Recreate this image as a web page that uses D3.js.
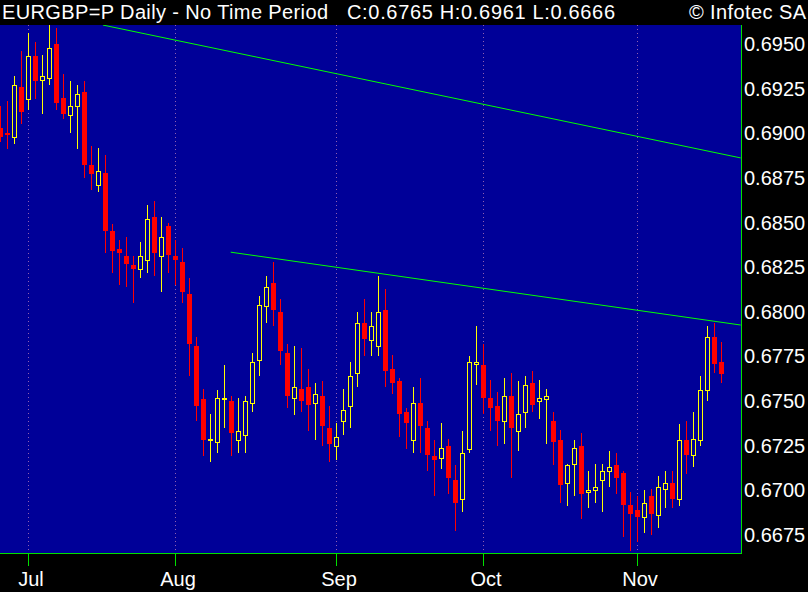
<!DOCTYPE html>
<html><head><meta charset="utf-8">
<script src="https://cdn.jsdelivr.net/npm/d3@7"></script>
<style>html,body{margin:0;padding:0;background:#000;}svg{display:block}</style>
</head><body><svg id="c" width="808" height="592"></svg>
<script>
// ---- data (EUR/GBP daily OHLC) ----
const open  = [0.6903,0.6900,0.6898,0.6926,0.6919,0.6943,0.6930,0.6931,0.6950,0.6920,
               0.6910,0.6915,0.6923,0.6882,0.6871,0.6878,0.6845,0.6835,0.6831,0.6826,
               0.6824,0.6829,0.6853,0.6831,0.6848,0.6831,0.6828,0.6810,0.6781,0.6751,
               0.6728,0.6727,0.6751,0.6750,0.6728,0.6731,0.6749,0.6773,0.6803,0.6816,
               0.6800,0.6777,0.6752,0.6757,0.6758,0.6749,0.6753,0.6735,0.6725,0.6739,
               0.6747,0.6766,0.6794,0.6784,0.6781,0.6801,0.6768,0.6761,0.6744,0.6728,
               0.6749,0.6735,0.6719,0.6718,0.6725,0.6706,0.6695,0.6723,0.6771,0.6770,
               0.6752,0.6747,0.6739,0.6753,0.6733,0.6744,0.6760,0.6750,0.6751,0.6739,
               0.6728,0.6704,0.6715,0.6725,0.6699,0.6700,0.6706,0.6711,0.6714,0.6710,
               0.6692,0.6689,0.6685,0.6697,0.6686,0.6701,0.6704,0.6695,0.6728,0.6720,
               0.6728,0.6756,0.6786,0.6772];
const high  = [0.6915,0.6918,0.6932,0.6946,0.6956,0.6951,0.6944,0.6961,0.6959,0.6933,
               0.6929,0.6927,0.6929,0.6893,0.6892,0.6888,0.6849,0.6840,0.6842,0.6831,
               0.6839,0.6860,0.6862,0.6853,0.6850,0.6840,0.6836,0.6819,0.6786,0.6757,
               0.6743,0.6756,0.6770,0.6753,0.6752,0.6753,0.6777,0.6809,0.6820,0.6828,
               0.6807,0.6782,0.6781,0.6780,0.6768,0.6760,0.6761,0.6747,0.6738,0.6757,
               0.6772,0.6800,0.6807,0.6800,0.6820,0.6813,0.6776,0.6763,0.6746,0.6758,
               0.6763,0.6739,0.6728,0.6738,0.6729,0.6714,0.6733,0.6775,0.6792,0.6782,
               0.6762,0.6755,0.6763,0.6766,0.6761,0.6764,0.6767,0.6762,0.6757,0.6744,
               0.6734,0.6715,0.6728,0.6732,0.6711,0.6715,0.6715,0.6722,0.6721,0.6711,
               0.6699,0.6697,0.6700,0.6701,0.6708,0.6711,0.6711,0.6737,0.6739,0.6744,
               0.6764,0.6792,0.6794,0.6783];
const low   = [0.6895,0.6891,0.6894,0.6905,0.6913,0.6919,0.6911,0.6927,0.6913,0.6908,
               0.6900,0.6891,0.6875,0.6868,0.6867,0.6833,0.6822,0.6815,0.6814,0.6805,
               0.6819,0.6822,0.6820,0.6811,0.6822,0.6815,0.6805,0.6764,0.6739,0.6719,
               0.6716,0.6721,0.6735,0.6719,0.6721,0.6721,0.6744,0.6764,0.6794,0.6792,
               0.6770,0.6746,0.6742,0.6744,0.6733,0.6728,0.6725,0.6716,0.6717,0.6731,
               0.6735,0.6758,0.6775,0.6775,0.6775,0.6758,0.6754,0.6730,0.6723,0.6721,
               0.6721,0.6711,0.6697,0.6712,0.6698,0.6677,0.6688,0.6721,0.6759,0.6743,
               0.6733,0.6725,0.6726,0.6707,0.6722,0.6735,0.6744,0.6740,0.6726,0.6714,
               0.6693,0.6691,0.6697,0.6684,0.6690,0.6693,0.6688,0.6702,0.6698,0.6674,
               0.6666,0.6671,0.6676,0.6675,0.6679,0.6690,0.6690,0.6691,0.6709,0.6713,
               0.6725,0.6750,0.6766,0.6760];
const close = [0.6898,0.6899,0.6927,0.6912,0.6943,0.6929,0.6932,0.6948,0.6917,0.6911,
               0.6915,0.6922,0.6882,0.6877,0.6879,0.6845,0.6834,0.6833,0.6827,0.6824,
               0.6831,0.6852,0.6833,0.6842,0.6832,0.6829,0.6811,0.6782,0.6747,0.6728,
               0.6729,0.6752,0.6752,0.6732,0.6733,0.6750,0.6772,0.6804,0.6814,0.6801,
               0.6778,0.6753,0.6758,0.6750,0.6748,0.6754,0.6736,0.6726,0.6730,0.6745,
               0.6764,0.6794,0.6785,0.6792,0.6800,0.6767,0.6760,0.6743,0.6738,0.6749,
               0.6736,0.6720,0.6717,0.6724,0.6707,0.6693,0.6721,0.6772,0.6772,0.6752,
               0.6746,0.6739,0.6753,0.6735,0.6743,0.6759,0.6748,0.6752,0.6753,0.6727,
               0.6703,0.6714,0.6724,0.6698,0.6700,0.6702,0.6711,0.6713,0.6707,0.6692,
               0.6687,0.6685,0.6693,0.6687,0.6702,0.6704,0.6695,0.6728,0.6720,0.6729,
               0.6756,0.6786,0.6771,0.6765];
const monthTickIndex = [4, 25, 48, 69, 91];
const monthLabels    = ["Jul", "Aug", "Sep", "Oct", "Nov"];
const priceTicks     = [0.6675,0.6700,0.6725,0.6750,0.6775,0.6800,0.6825,0.6850,0.6875,0.6900,0.6925,0.6950];
const trendLineA     = [[14.71, 0.69606], [105.81, 0.68862]];
const trendLineB     = [[32.96, 0.68334], [105.81, 0.67926]];
const titleMain  = "EURGBP=P Daily - No Time Period";
const titleStats = "C:0.6765 H:0.6961 L:0.6666";
const titleCopy  = "\u00A9 Infotec SA";

// ---- layout ----
const W = 808, H = 592;
const plot = {left: 0, top: 25, right: 741, bottom: 553};
const font = "'Liberation Sans', Arial, sans-serif";
const navy = "#000098";

const svg = d3.select("#c");
svg.append("rect").attr("width", W).attr("height", H).attr("fill", "#000");

const x = d3.scaleLinear().domain([0, 103]).range([0, 721]);
const y = d3.scaleLinear().domain([0.6675, 0.6950]).range([535, 44]);

svg.append("defs").append("clipPath").attr("id", "clip")
  .append("rect").attr("x", plot.left).attr("y", plot.top)
  .attr("width", plot.right - plot.left).attr("height", plot.bottom - plot.top);

svg.append("rect").attr("x", plot.left).attr("y", plot.top)
  .attr("width", plot.right - plot.left).attr("height", plot.bottom - plot.top)
  .attr("fill", navy);

const g = svg.append("g").attr("clip-path", "url(#clip)").attr("shape-rendering", "crispEdges");

// month gridlines (dotted)
g.selectAll("line.grid").data(monthTickIndex).join("line")
  .attr("x1", d => Math.round(x(d)) + 0.5).attr("x2", d => Math.round(x(d)) + 0.5)
  .attr("y1", plot.top).attr("y2", plot.bottom)
  .attr("stroke", "#9060b0").attr("stroke-width", 1).attr("stroke-dasharray", "1,3");

// candles
const data = open.map((o, i) => ({i, o, h: high[i], l: low[i], c: close[i]}));
const cg = g.selectAll("g.candle").data(data).join("g");
cg.append("line")
  .attr("x1", d => Math.round(x(d.i)) + 0.5).attr("x2", d => Math.round(x(d.i)) + 0.5)
  .attr("y1", d => Math.round(y(d.h))).attr("y2", d => Math.round(y(d.l)))
  .attr("stroke", d => d.c >= d.o ? "#ffff00" : "#ff0000").attr("stroke-width", 1);
cg.each(function(d) {
  const cx = Math.round(x(d.i));
  const sel = d3.select(this);
  const yt = Math.round(y(Math.max(d.o, d.c)));
  const yb = Math.round(y(Math.min(d.o, d.c)));
  if (d.c >= d.o) {
    sel.append("rect").attr("x", cx - 1.5).attr("y", yt + 0.5)
      .attr("width", 4).attr("height", Math.max(1, yb - yt))
      .attr("fill", navy).attr("stroke", "#ffff00").attr("stroke-width", 1);
  } else {
    sel.append("rect").attr("x", cx - 2).attr("y", yt)
      .attr("width", 5).attr("height", Math.max(2, yb - yt))
      .attr("fill", "#ff0000");
  }
});

// trend lines
const tl = d3.line().x(d => x(d[0])).y(d => y(d[1]));
svg.append("g").attr("clip-path", "url(#clip)").selectAll("path")
  .data([trendLineA, trendLineB]).join("path")
  .attr("d", tl).attr("fill", "none").attr("stroke", "#00ff00").attr("stroke-width", 1);

// axes frame
svg.append("line").attr("x1", 0).attr("x2", 742).attr("y1", 553.5).attr("y2", 553.5)
  .attr("stroke", "#00e000").attr("shape-rendering", "crispEdges");
svg.append("line").attr("x1", 741.5).attr("x2", 741.5).attr("y1", 25).attr("y2", 554)
  .attr("stroke", "#00e000").attr("shape-rendering", "crispEdges");
svg.selectAll("line.tick").data(monthTickIndex).join("line")
  .attr("x1", d => Math.round(x(d)) + 0.5).attr("x2", d => Math.round(x(d)) + 0.5)
  .attr("y1", 554).attr("y2", 566).attr("stroke", "#00e000").attr("shape-rendering", "crispEdges");

// month labels
svg.selectAll("text.month").data(monthTickIndex).join("text")
  .attr("x", d => Math.round(x(d)) + 3).attr("y", 586)
  .attr("text-anchor", "middle").attr("fill", "#fff")
  .attr("font-family", font).attr("font-size", 20)
  .text((d, i) => monthLabels[i]);

// price labels
const fmt = d3.format(".4f");
svg.selectAll("text.price").data(priceTicks).join("text")
  .attr("x", 744).attr("y", d => y(d) + 7)
  .attr("fill", "#fff").attr("font-family", font).attr("font-size", 20)
  .text(d => fmt(d));

// title bar
svg.append("text").attr("x", 2).attr("y", 19).attr("fill", "#fff")
  .attr("font-family", font).attr("font-size", 20)
  .attr("textLength", 326).attr("lengthAdjust", "spacing").text(titleMain);
svg.append("text").attr("x", 347).attr("y", 19).attr("fill", "#fff")
  .attr("font-family", font).attr("font-size", 20)
  .attr("textLength", 268).attr("lengthAdjust", "spacing").text(titleStats);
svg.append("text").attr("x", 689).attr("y", 19).attr("fill", "#fff")
  .attr("font-family", font).attr("font-size", 20)
  .attr("textLength", 117).attr("lengthAdjust", "spacing").text(titleCopy);
</script>
</body></html>
